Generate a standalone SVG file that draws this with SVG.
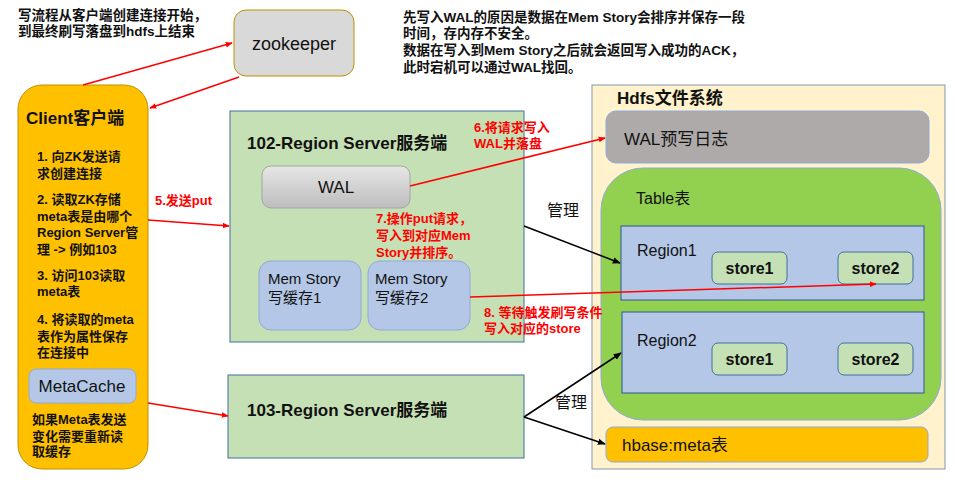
<svg xmlns="http://www.w3.org/2000/svg" width="972" height="489" viewBox="0 0 972 489">
<defs>
<linearGradient id="walg" x1="0" y1="0" x2="0" y2="1">
<stop offset="0" stop-color="#E6E6E6"/>
<stop offset="1" stop-color="#BDBDBD"/>
</linearGradient>
<marker id="ar" viewBox="0 0 10 10" refX="9" refY="5" markerWidth="7" markerHeight="7" orient="auto" markerUnits="userSpaceOnUse">
<path d="M0,1 L10,5 L0,9 z" fill="#FF0000"/>
</marker>
<marker id="ab" viewBox="0 0 10 10" refX="9" refY="5" markerWidth="8" markerHeight="8" orient="auto" markerUnits="userSpaceOnUse">
<path d="M0,1 L10,5 L0,9 z" fill="#000000"/>
</marker>
</defs>
<style>
text{font-family:"Liberation Sans","Noto Sans CJK SC",sans-serif;fill:#111}
.b{font-weight:bold}
.s13{font-size:13px}
.s135{font-size:13.5px}
.s15{font-size:15px}
.s16{font-size:16px}
.s17{font-size:17px}
.s18{font-size:18px}
.red{fill:#FF0000}
.rl{stroke:#FF0000;stroke-width:1.5;fill:none;marker-end:url(#ar)}
.bl{stroke:#000;stroke-width:1.5;fill:none;marker-end:url(#ab)}
.blue{fill:#B4C7E7;stroke:#8FAADC;stroke-width:1}
.store{fill:#C5E0B4;stroke:#41719C;stroke-width:1}
</style>
<rect width="972" height="489" fill="#FFFFFF"/>

<g id="note-left">
<text class="s135 b" x="18" y="20">写流程从客户端创建连接开始，</text>
<text class="s135 b" x="18" y="36">到最终刷写落盘到hdfs上结束</text>
</g>
<g id="note-right">
<text class="s135 b" x="403" y="22">先写入WAL的原因是数据在Mem Story会排序并保存一段</text>
<text class="s135 b" x="403" y="38">时间，存内存不安全。</text>
<text class="s135 b" x="403" y="55">数据在写入到Mem Story之后就会返回写入成功的ACK，</text>
<text class="s135 b" x="403" y="72">此时宕机可以通过WAL找回。</text>
</g>

<g id="zookeeper">
<rect x="234" y="10" width="120" height="66" rx="12" fill="#D9D9D9" stroke="#BF9000" stroke-width="1"/>
<text class="s18" x="294" y="50" text-anchor="middle">zookeeper</text>
</g>

<g id="client">
<rect x="18" y="85" width="130" height="384" rx="24" fill="#FFC000" stroke="#BF9000" stroke-width="1"/>
<text class="s17 b" x="26" y="124">Client客户端</text>
<text class="s13 b" x="37" y="161">1. 向ZK发送请</text>
<text class="s13 b" x="37" y="178">求创建连接</text>
<text class="s13 b" x="37" y="204">2. 读取ZK存储</text>
<text class="s13 b" x="37" y="221">meta表是由哪个</text>
<text class="s13 b" x="37" y="237">Region Server管</text>
<text class="s13 b" x="37" y="254">理 -&gt; 例如103</text>
<text class="s13 b" x="37" y="280">3. 访问103读取</text>
<text class="s13 b" x="37" y="296">meta表</text>
<text class="s13 b" x="37" y="324">4. 将读取的meta</text>
<text class="s13 b" x="37" y="341">表作为属性保存</text>
<text class="s13 b" x="37" y="357">在连接中</text>
<g id="metacache">
<rect x="29" y="369" width="107" height="34" rx="7" class="blue"/>
<text class="s17" x="82" y="392" text-anchor="middle">MetaCache</text>
</g>
<text class="s13 b" x="32" y="424">如果Meta表发送</text>
<text class="s13 b" x="32" y="441">变化需要重新读</text>
<text class="s13 b" x="32" y="456">取缓存</text>
</g>

<g id="rs102">
<rect x="230" y="111" width="294" height="231" fill="#C5E0B4" stroke="#41719C" stroke-width="1"/>
<text class="s17 b" x="247" y="149">102-Region Server服务端</text>
<g id="wal">
<rect x="262" y="166" width="148" height="42" rx="9" fill="url(#walg)" stroke="#A5A5A5" stroke-width="1"/>
<text class="s17" x="336" y="193" text-anchor="middle">WAL</text>
</g>
<g id="mem1">
<rect x="259" y="261" width="102" height="69" rx="12" class="blue"/>
<text class="s15" x="268" y="284">Mem Story</text>
<text class="s15" x="268" y="303">写缓存1</text>
</g>
<g id="mem2">
<rect x="368" y="261" width="102" height="69" rx="12" class="blue"/>
<text class="s15" x="375" y="284">Mem Story</text>
<text class="s15" x="375" y="303">写缓存2</text>
</g>
</g>

<g id="rs103">
<rect x="228" y="375" width="296" height="83" fill="#C5E0B4" stroke="#41719C" stroke-width="1"/>
<text class="s17 b" x="247" y="416">103-Region Server服务端</text>
</g>

<g id="hdfs">
<rect x="592" y="85" width="353" height="384" fill="#FFF2CC" stroke="#8497B0" stroke-width="1"/>
<text class="s17 b" x="617" y="104">Hdfs文件系统</text>
<g id="wal-log">
<rect x="606" y="111" width="323" height="52" rx="10" fill="#AEAAAA" stroke="#8FAADC" stroke-width="1"/>
<text class="s17" x="624" y="145">WAL预写日志</text>
</g>
<g id="table">
<rect x="601" y="168" width="340" height="252" rx="42" fill="#92D050" stroke="#8FAADC" stroke-width="1"/>
<text class="s16" x="636" y="204">Table表</text>
</g>
<g id="region1">
<rect x="621" y="226" width="303" height="74" fill="#B4C7E7" stroke="#2F5597" stroke-width="1"/>
<text class="s16" x="637" y="256">Region1</text>
<g id="r1s1"><rect x="712" y="252" width="75" height="32" rx="6" class="store"/><text class="s16 b" x="749.500" y="274" text-anchor="middle">store1</text></g>
<g id="r1s2"><rect x="838" y="252" width="75" height="32" rx="6" class="store"/><text class="s16 b" x="875.500" y="274" text-anchor="middle">store2</text></g>
</g>
<g id="region2">
<rect x="622" y="312" width="302" height="81" fill="#B4C7E7" stroke="#2F5597" stroke-width="1"/>
<text class="s16" x="637" y="346">Region2</text>
<g id="r2s1"><rect x="712" y="343" width="75" height="32" rx="6" class="store"/><text class="s16 b" x="749.500" y="365" text-anchor="middle">store1</text></g>
<g id="r2s2"><rect x="838" y="343" width="75" height="32" rx="6" class="store"/><text class="s16 b" x="875.500" y="365" text-anchor="middle">store2</text></g>
</g>
<g id="meta">
<rect x="606" y="427" width="322" height="35" rx="7" fill="#FFC000" stroke="#8FAADC" stroke-width="1"/>
<text class="s17" x="622" y="451">hbase:meta表</text>
</g>
</g>

<g id="connectors">
<line class="rl" x1="83" y1="85" x2="232" y2="43"/>
<line class="rl" x1="239" y1="77" x2="150" y2="108"/>
<line class="rl" x1="148" y1="220" x2="229" y2="226"/>
<line class="rl" x1="148" y1="403" x2="228" y2="416"/>
<line class="rl" x1="410" y1="186" x2="605" y2="138"/>
<line class="rl" x1="470" y1="297" x2="876" y2="284"/>
<line class="bl" x1="524" y1="226" x2="620" y2="263"/>
<line class="bl" x1="524" y1="417" x2="621" y2="353"/>
<line class="bl" x1="524" y1="417" x2="605" y2="444"/>
</g>

<g id="labels">
<text class="s13 b red" x="155" y="205">5.发送put</text>
<text class="s13 b red" x="474" y="132">6.将请求写入</text>
<text class="s13 b red" x="474" y="148">WAL并落盘</text>
<text class="s13 b red" x="376" y="223">7.操作put请求，</text>
<text class="s13 b red" x="376" y="240">写入到对应Mem</text>
<text class="s13 b red" x="376" y="257">Story并排序。</text>
<text class="s13 b red" x="484" y="317">8. 等待触发刷写条件</text>
<text class="s13 b red" x="484" y="333">写入对应的store</text>
<text class="s16" x="547" y="216">管理</text>
<text class="s16" x="555" y="408">管理</text>
</g>
</svg>
